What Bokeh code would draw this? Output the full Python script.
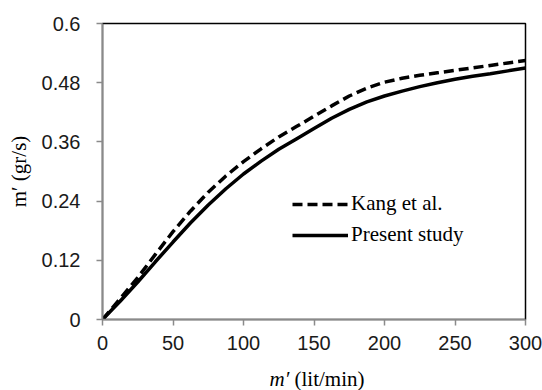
from bokeh.plotting import figure
from bokeh.models import Range1d, FixedTicker, Legend, LegendItem, Div
from bokeh.layouts import column
from bokeh.embed import file_html
from bokeh.resources import INLINE

# Flow rate (lit/min) and resulting mass rate (gr/s)
flow = [0, 12.5, 25, 37.5, 50, 62.5, 75, 87.5, 100, 112.5, 125, 137.5, 150,
        162.5, 175, 187.5, 200, 212.5, 225, 237.5, 250, 262.5, 275, 287.5, 300]
kang = [0, 0.042, 0.085, 0.132, 0.178, 0.220, 0.258, 0.291, 0.320, 0.346, 0.370, 0.391, 0.412,
        0.433, 0.453, 0.469, 0.481, 0.489, 0.495, 0.500, 0.505, 0.510, 0.515, 0.520, 0.525]
present = [0, 0.037, 0.076, 0.117, 0.157, 0.196, 0.232, 0.265, 0.295, 0.321, 0.345, 0.366, 0.387,
           0.408, 0.426, 0.441, 0.453, 0.463, 0.472, 0.480, 0.487, 0.493, 0.498, 0.504, 0.510]

x_ticks = [0, 50, 100, 150, 200, 250, 300]
y_ticks = [0, 0.12, 0.24, 0.36, 0.48, 0.6]
y_tick_labels = {0: "0", 0.12: "0.12", 0.24: "0.24", 0.36: "0.36", 0.48: "0.48", 0.6: "0.6"}

p = figure(width=542, height=360, output_backend="svg", toolbar_location=None,
           x_range=Range1d(0, 300), y_range=Range1d(0, 0.6),
           min_border_left=102, min_border_right=17, min_border_top=23, min_border_bottom=41)

p.background_fill_color = "white"
p.border_fill_color = "white"
p.outline_line_color = "black"
p.outline_line_width = 1.5
p.xgrid.visible = False
p.ygrid.visible = False

tick_font = "Liberation Sans"
for ax in (p.xaxis[0], p.yaxis[0]):
    ax.axis_line_color = "#8a8a8a"
    ax.axis_line_width = 1.5
    ax.major_tick_line_color = "#8a8a8a"
    ax.major_tick_line_width = 1.5
    ax.major_tick_out = 6
    ax.major_tick_in = 0
    ax.minor_tick_line_color = None
    ax.major_label_text_font = tick_font
    ax.major_label_text_font_size = "20px"
    ax.major_label_text_color = "#1a1a1a"

p.xaxis.ticker = FixedTicker(ticks=x_ticks)
p.yaxis.ticker = FixedTicker(ticks=y_ticks)
p.yaxis.major_label_overrides = y_tick_labels
p.xaxis.major_label_standoff = 10
p.yaxis.major_label_standoff = 16

p.yaxis.axis_label = "m\u2032 (gr/s)"
p.yaxis.axis_label_text_font = "Liberation Serif"
p.yaxis.axis_label_text_font_style = "normal"
p.yaxis.axis_label_text_font_size = "21px"
p.yaxis.axis_label_text_color = "black"
p.yaxis.axis_label_standoff = 8

r_kang = p.line(flow, kang, line_color="black", line_width=3.5, line_dash="10 5")
r_present = p.line(flow, present, line_color="black", line_width=3.5)

legend = Legend(items=[LegendItem(label="Kang et al.", renderers=[r_kang]),
                       LegendItem(label="Present study", renderers=[r_present])],
                location=(190, 72), background_fill_alpha=0, border_line_color=None,
                padding=0, margin=0, spacing=6, glyph_width=56, glyph_height=20,
                label_height=20, label_standoff=3,
                label_text_font="Liberation Serif", label_text_font_size="21px",
                label_text_color="black")
p.add_layout(legend, "center")

# x-axis title: italic symbol followed by the unit, set under the plot
xtitle = Div(text="<i>m\u2032</i>&nbsp;(lit/min)", width=542, height=30,
             styles={"font-family": "Liberation Serif", "font-size": "21px", "color": "black",
                     "text-align": "center", "padding-left": "82px", "padding-top": "0px",
                     "box-sizing": "border-box", "line-height": "28px", "overflow": "visible"})

layout = column(p, xtitle, spacing=0)
open("out.html", "w").write(file_html(layout, INLINE))
